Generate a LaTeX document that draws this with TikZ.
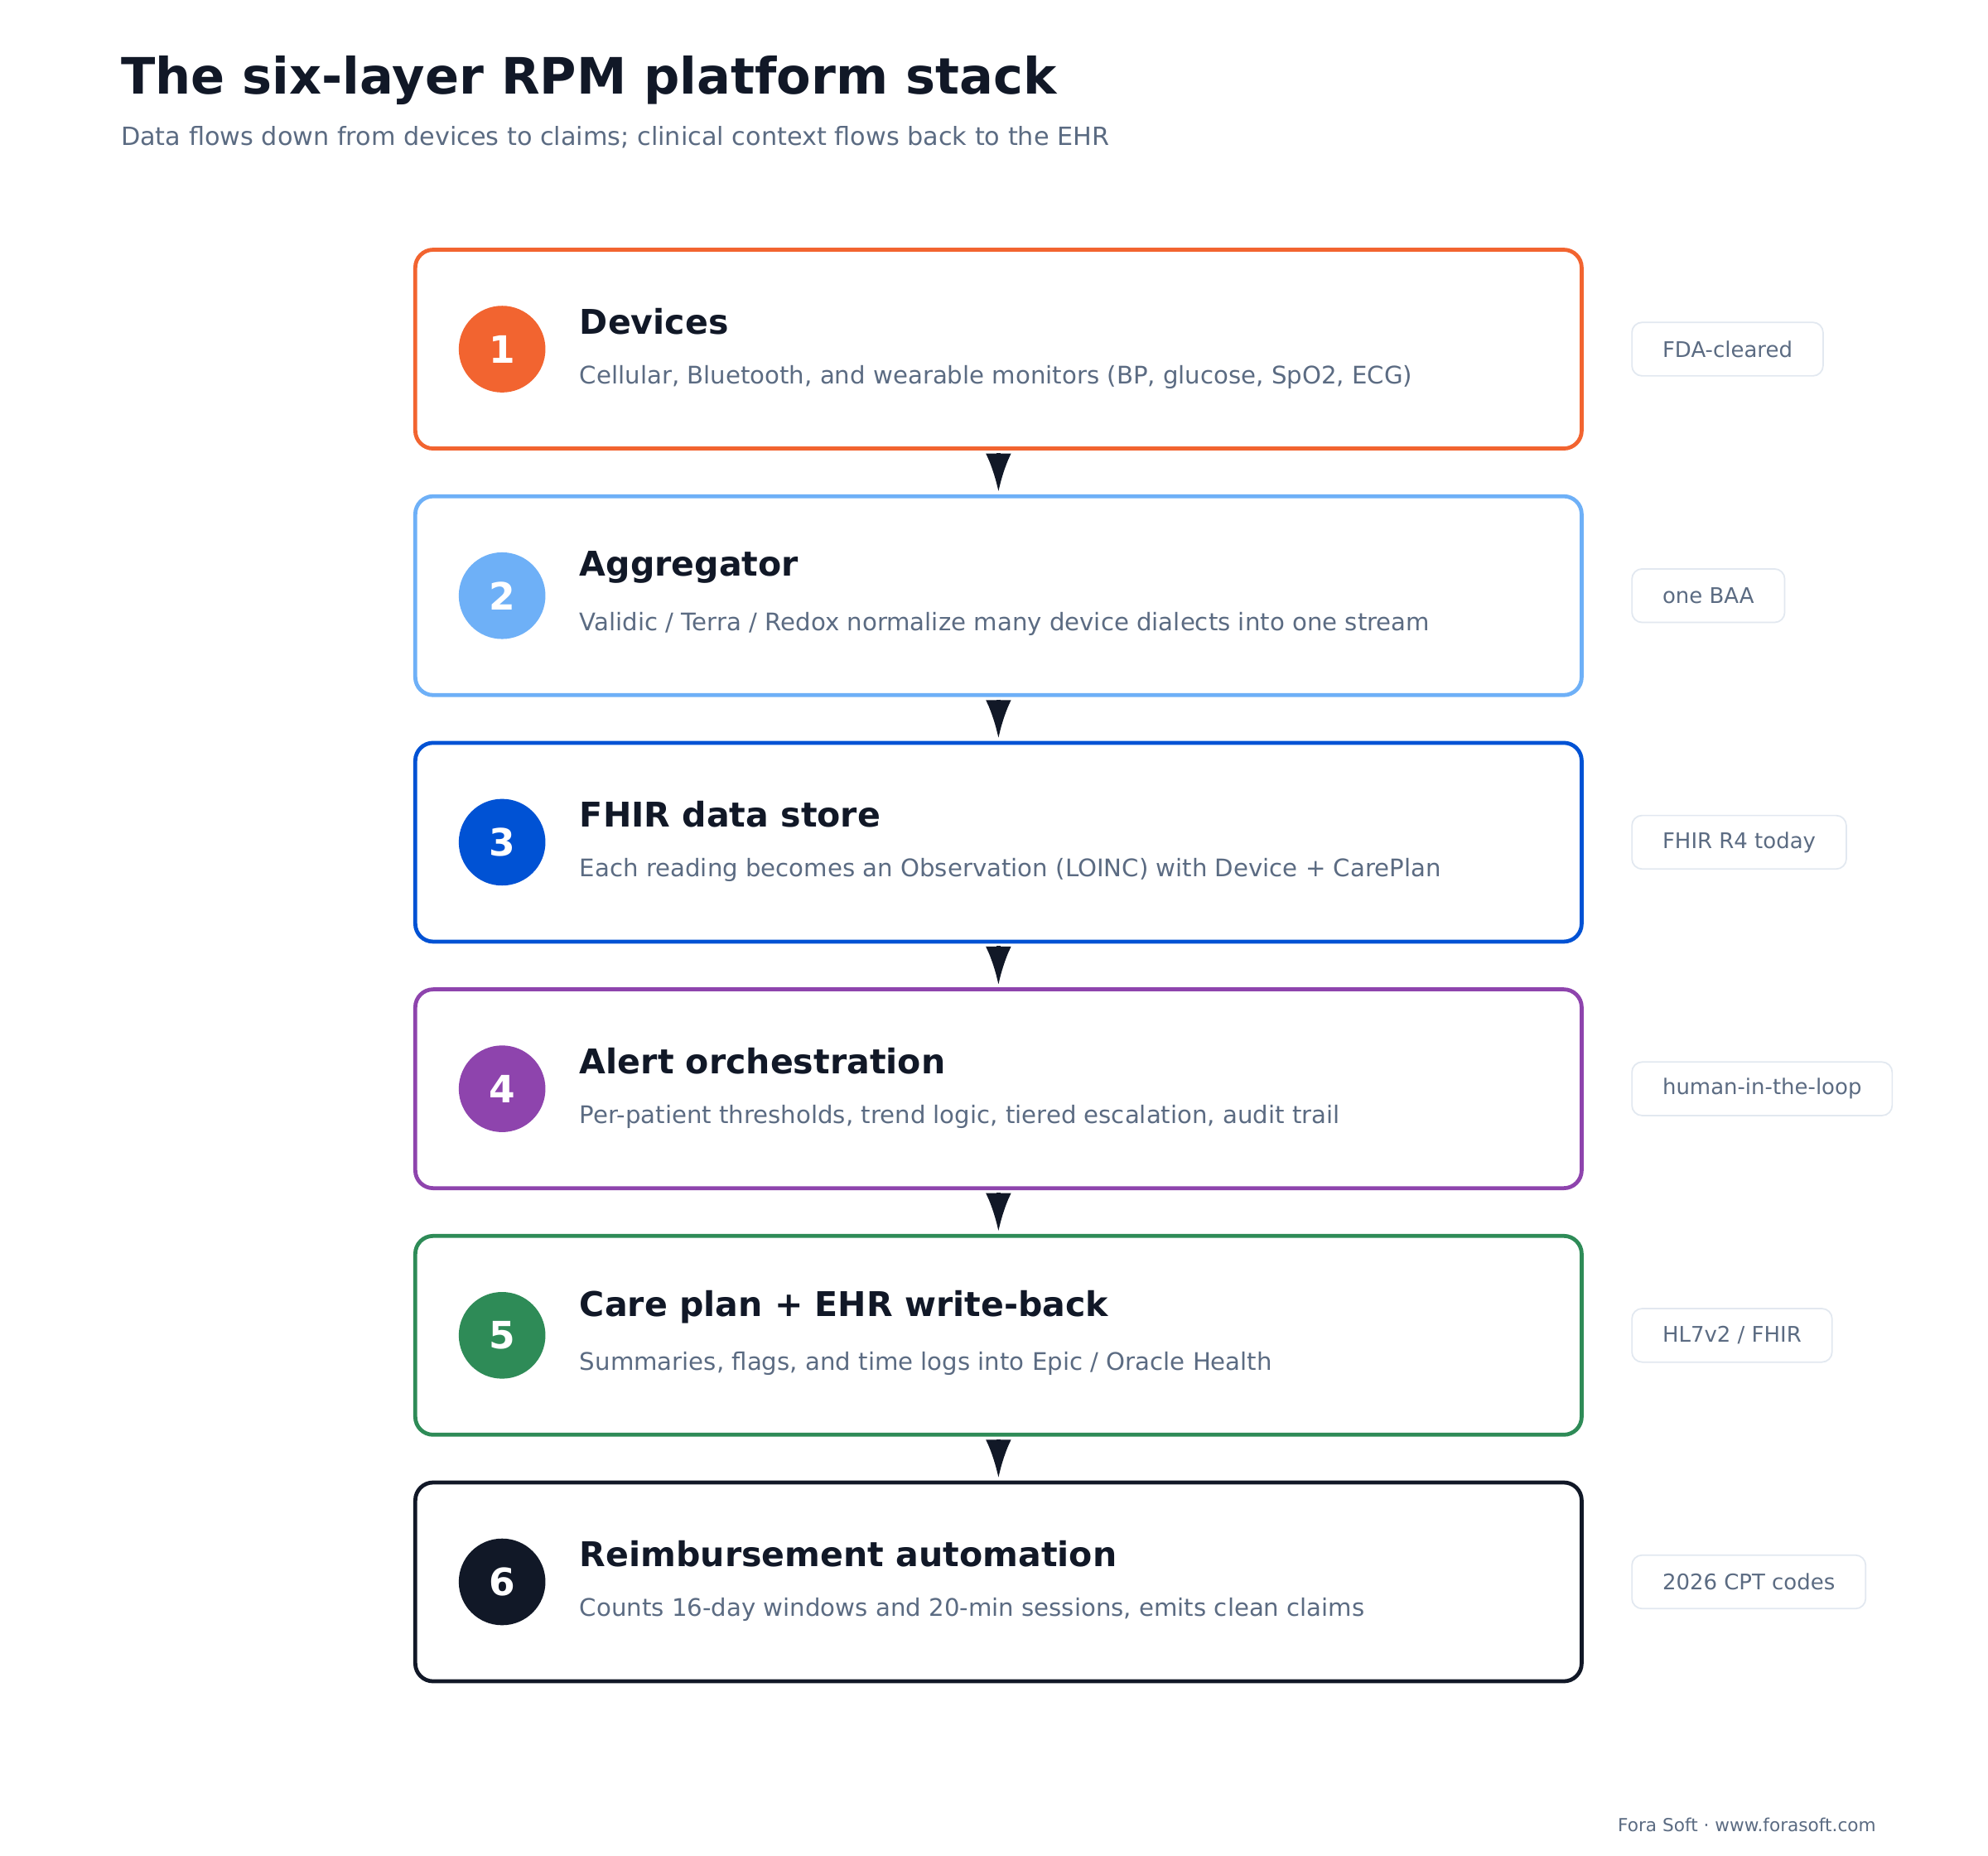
\documentclass[tikz,border=0pt]{standalone}
\usepackage{fontspec}
\setmainfont{DejaVu Sans}
\usetikzlibrary{positioning,arrows.meta}
\definecolor{ink}{HTML}{111827}
\definecolor{muted}{HTML}{5B6B82}
\definecolor{tagline}{HTML}{E2E8F0}
\definecolor{cOne}{HTML}{F26430}
\definecolor{cTwo}{HTML}{6EB0F7}
\definecolor{cThree}{HTML}{0052D4}
\definecolor{cFour}{HTML}{8E44AD}
\definecolor{cFive}{HTML}{2E8B57}
\definecolor{cSix}{HTML}{111827}
\tikzset{
  layer/.style = {draw=#1, line width=2.2pt, rounded corners=0.35cm,
                  minimum width=22.875cm, minimum height=3.9cm, fill=white},
  badge/.style = {circle, fill=#1, minimum size=1.7cm, inner sep=0pt,
                  text=white, font=\fontsize{21}{24}\selectfont\bfseries},
  head/.style  = {anchor=west, text=ink, font=\fontsize{19}{22}\selectfont\bfseries},
  desc/.style  = {anchor=west, text=muted, font=\fontsize{13.5}{16}\selectfont},
  tag/.style   = {anchor=west, draw=tagline, line width=0.8pt, rounded corners=0.2cm,
                  minimum height=1.05cm, inner xsep=0.6cm, text=muted,
                  font=\fontsize{12}{14}\selectfont},
  arr/.style   = {-{Latex[length=0.75cm,width=0.5cm]}, line width=2pt, draw=ink,
                  shorten <=0.05cm, shorten >=0.05cm}
}
\begin{document}
\begin{tikzpicture}[x=0.025cm, y=-0.025cm]
	\useasboundingbox[fill=white] (0,0) rectangle (1560,1456);
	
	% Title
	\node[anchor=west, text=ink, font=\fontsize{28}{32}\selectfont\bfseries] (title) at (90,63) {The six-layer RPM platform stack};
	\node[anchor=west, text=muted, font=\fontsize{14}{17}\selectfont] (subtitle) at (90,108) {Data flows down from devices to claims; clinical context flows back to the EHR};
	
	% Layers
	\node[layer=cOne]   (L1) at (783.5,274) {};
	\node[layer=cTwo]   (L2) at (783.5,467.5) {};
	\node[layer=cThree] (L3) at (783.5,661) {};
	\node[layer=cFour]  (L4) at (783.5,854.5) {};
	\node[layer=cFive]  (L5) at (783.5,1048) {};
	\node[layer=cSix]   (L6) at (783.5,1241.5) {};
	
	% Badges
	\node[badge=cOne]   (B1) at (394,274) {1};
	\node[badge=cTwo]   (B2) at (394,467.5) {2};
	\node[badge=cThree] (B3) at (394,661) {3};
	\node[badge=cFour]  (B4) at (394,854.5) {4};
	\node[badge=cFive]  (B5) at (394,1048) {5};
	\node[badge=cSix]   (B6) at (394,1241.5) {6};
	
	% Headings
	\node[head] (H1) at (450,252) {Devices};
	\node[head] (H2) at (450,445.5) {Aggregator};
	\node[head] (H3) at (450,639) {FHIR data store};
	\node[head] (H4) at (450,832.5) {Alert orchestration};
	\node[head] (H5) at (450,1026) {Care plan + EHR write-back};
	\node[head] (H6) at (450,1219.5) {Reimbursement automation};
	
	% Descriptions
	\node[desc] (D1) at (450,296) {Cellular, Bluetooth, and wearable monitors (BP, glucose, SpO2, ECG)};
	\node[desc] (D2) at (450,489.5) {Validic / Terra / Redox normalize many device dialects into one stream};
	\node[desc] (D3) at (450,683) {Each reading becomes an Observation (LOINC) with Device + CarePlan};
	\node[desc] (D4) at (450,876.5) {Per-patient thresholds, trend logic, tiered escalation, audit trail};
	\node[desc] (D5) at (450,1070) {Summaries, flags, and time logs into Epic / Oracle Health};
	\node[desc] (D6) at (450,1263.5) {Counts 16-day windows and 20-min sessions, emits clean claims};
	
	% Tags
	\node[tag] (T1) at (1280,274) {FDA-cleared};
	\node[tag] (T2) at (1280,467.5) {one BAA};
	\node[tag] (T3) at (1280,661) {FHIR R4 today};
	\node[tag] (T4) at (1280,854.5) {human-in-the-loop};
	\node[tag] (T5) at (1280,1048) {HL7v2 / FHIR};
	\node[tag] (T6) at (1280,1241.5) {2026 CPT codes};
	
	% Arrows
	\draw[arr] (L1.south) -- (L2.north);
	\draw[arr] (L2.south) -- (L3.north);
	\draw[arr] (L3.south) -- (L4.north);
	\draw[arr] (L4.south) -- (L5.north);
	\draw[arr] (L5.south) -- (L6.north);
	
	% Footer
	\node[anchor=east, text=muted, font=\fontsize{10}{12}\selectfont] (foot) at (1477,1432) {Fora Soft · www.forasoft.com};
\end{tikzpicture}
\end{document}
